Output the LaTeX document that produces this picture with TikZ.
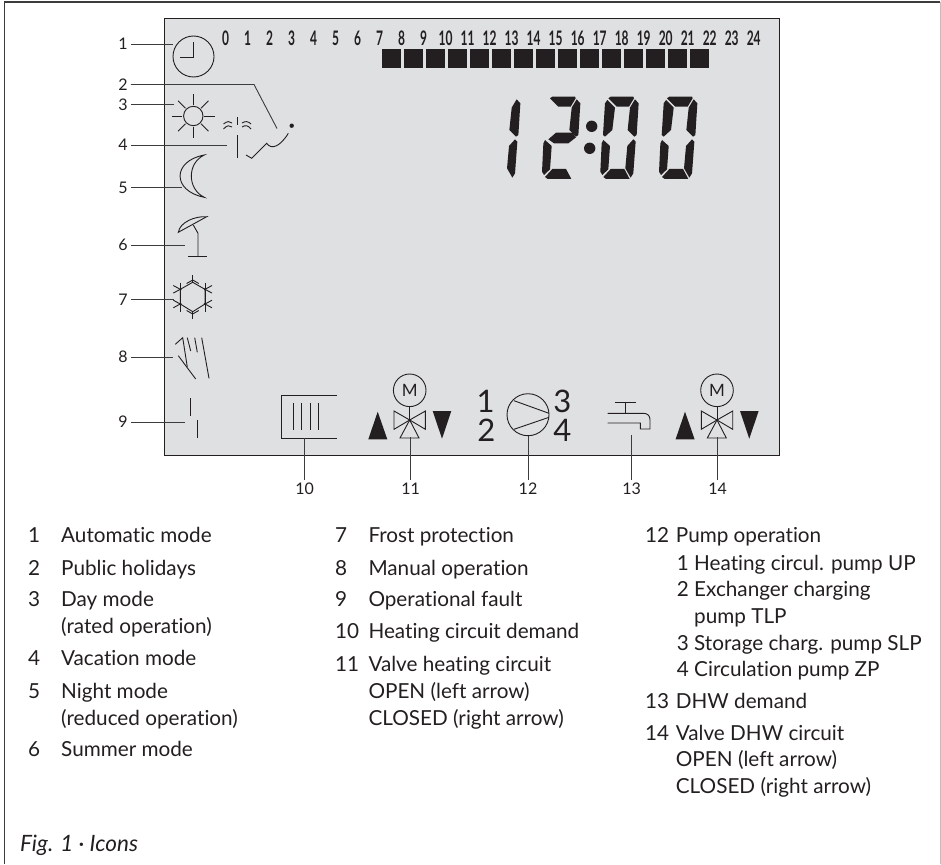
\documentclass[tikz,border=0pt]{standalone}
\usepackage{fontspec}
\setmainfont[Ligatures=NoCommon]{Lato}
\newfontfamily\hourfont[FakeStretch=0.6]{Lato}
\usepackage{tikz}
\usetikzlibrary{calc}

\definecolor{lcdgrey}{HTML}{DFE0E2}
\definecolor{lcdink}{HTML}{231F20}
\definecolor{linegrey}{HTML}{3C3C3C}

\tikzset{
  icon/.style={draw=lcdink, line width=0.9pt},
  leader/.style={draw=linegrey, line width=0.9pt},
  solidink/.style={fill=lcdink, draw=none},
  callout/.style={font=\fontsize{16}{16}\selectfont, text=lcdink, inner sep=3pt},
  legend/.style={font=\fontsize{20.7}{21}\selectfont, text=lcdink, anchor=base west, inner sep=0pt},
  hournum/.style={font=\hourfont\bfseries\fontsize{20}{20}\selectfont, text=lcdink, inner sep=0pt},
  bignum/.style={font=\fontsize{31}{31}\selectfont, text=lcdink, inner sep=0pt},
}

% the seven segments of one digit, in 1/3 pixel units
\newcommand{\segTop}{\fill[solidink] (385,115) -- (392,110) -- (460,110) -- (462,115) -- (447,140) -- (410,140) -- cycle;}
\newcommand{\segUR}{\fill[solidink] (465,118) -- (476,130) -- (470,225) -- (463,230) -- (443,210) -- (450,143) -- cycle;}
\newcommand{\segUL}{\fill[solidink] (382,120) -- (405,143) -- (397,210) -- (375,230) -- (369,225) -- (375,130) -- cycle;}
\newcommand{\segMid}{\fill[solidink] (380,238) -- (403,218) -- (452,218) -- (463,232) -- (440,250) -- (397,250) -- cycle;}
\newcommand{\segLL}{\fill[solidink] (370,240) -- (390,258) -- (385,328) -- (367,345) -- (361,335) -- (365,250) -- cycle;}
\newcommand{\segLR}{\fill[solidink] (460,238) -- (467,245) -- (460,340) -- (452,353) -- (436,325) -- (442,258) -- cycle;}
\newcommand{\segBot}{\fill[solidink] (370,351) -- (392,327) -- (433,327) -- (449,357) -- (378,357) -- cycle;}

% motor valve with its two arrows, centred on the valve crossing
\newcommand{\motorvalve}[1]{
  \begin{scope}[shift={(#1,420)}]
    \draw[icon] (0,-29.7) circle (16.3);
    \node[font=\fontsize{17}{17}\selectfont, text=lcdink, inner sep=0pt] at (0,-29.7) {M};
    \draw[icon] (0,-13.3) -- (0,0);
    \draw[icon] (0,0) -- (-15.7,-9) -- (-15.7,9.3) -- cycle;
    \draw[icon] (0,0) -- (15.7,-9) -- (15.7,9.3) -- cycle;
    \draw[icon] (0,0) -- (-9.7,18) -- (9.3,18) -- cycle;
    \fill[solidink] (-41.4,19.3) -- (-22.4,19.3) -- (-32,-8.3) -- cycle;
    \fill[solidink] (23,-9) -- (41.6,-9) -- (32.3,18.7) -- cycle;
  \end{scope}
}

\begin{document}
\begin{tikzpicture}[x=1pt, y=-1pt]
    \useasboundingbox (0,0) rectangle (941,864);

    % 1. Page frame and display panel
    \draw[linegrey, line width=1.2pt] (4.5,864) -- (4.5,2) -- (940,2);
    \draw[gray!50, line width=1pt] (940,2) -- (940,864);
    \filldraw[fill=lcdgrey, draw=lcdink, line width=0.9pt] (164.5,18.7) rectangle (779,455);

    % 2. Hour scale and the time bar
    \foreach \h in {0,...,24}
        \node[hournum] (hour\h) at (225.7+22*\h,38) {\h};
    \foreach \b in {0,...,14}
        \fill[solidink] (382+22*\b,49) rectangle +(19,19);

    % 3. Big digits 12:00
    \begin{scope}[shift={(480,60)}, x=0.3333pt, y=-0.3333pt]
        \begin{scope}[xshift=-118.3pt]
            \segUR \segLR
        \end{scope}
        \begin{scope}[xshift=-58.3pt]
            \segTop \segUR \segMid \segLL \segBot
        \end{scope}
        \begin{scope}
            \segTop \segUR \segUL \segLL \segLR \segBot
        \end{scope}
        \begin{scope}[xshift=58.7pt]
            \segTop \segUR \segUL \segLL \segLR \segBot
        \end{scope}
    \end{scope}
    \fill[solidink] (591.7,126.3) circle (5.7);
    \fill[solidink] (589.7,148.3) circle (5.7);

    % 4. Icons down the left side
    \draw[icon] (193.5,56.5) circle (20.5);             % clock
    \draw[icon] (193.5,42) -- (193.5,57) -- (180,57);

    \draw[icon] (193.3,116) circle (9.7);               % sun
    \foreach \a in {0,90,180,270}
        \draw[icon] (193.3,116) ++(\a:11) -- ++(\a:10.5);
    \foreach \a in {45,135,225,315}
        \draw[icon] (193.3,116) ++(\a:11) -- ++(\a:10.5);

    \draw[icon] (237,117) -- (237,125);                 % palm and hill
    \draw[icon] (237,135) -- (237,158);
    \draw[icon] (223.5,124) .. controls (227,121) and (230,121) .. (232,123);
    \draw[icon] (223.5,129) .. controls (227,125) and (230,125) .. (232,127);
    \draw[icon] (242,123) .. controls (245,121) and (248,121) .. (251,124);
    \draw[icon] (242,127) .. controls (245,125) and (248,125) .. (251,129);
    \draw[icon] (246,155) -- (251.7,158.3) -- (266.7,143.3)
        .. controls (271,150) and (280,147) .. (288.3,133.3);
    \fill[solidink] (291.7,125.7) circle (2.2);

    \draw[icon] (204.3,155) .. controls (172,161) and (172,191) .. (204.3,197.3)
        .. controls (187,189) and (187,163) .. (204.3,155) -- cycle;  % moon

    \draw[icon] (178.3,232.3) .. controls (180,222) and (195,216) .. (206.7,216.7)
        -- cycle;                                       % umbrella
    \draw[icon] (193.3,225) -- (198,233.3) -- (198,256);
    \draw[icon] (188.3,256) -- (207,256);

    \coordinate (frost) at (192.7,297);                 % snow crystal
    \draw[icon] (192.7,282.3) -- (205,289.3) -- (205,304) -- (192.7,311.7)
        -- (180.3,304) -- (180.3,289.3) -- cycle;
    \draw[icon] (180.3,282.7) -- (180.3,311.7);
    \draw[icon] (205,282.7) -- (205,311.7);
    \foreach \vx/\vy/\s in {180.3/289.3/-1, 180.3/304/-1, 205/289.3/1, 205/304/1} {
        \draw[icon] (\vx-\s,\vy+0.6) -- (\vx+\s*7,\vy-3.8);
        \draw[icon] (\vx-\s,\vy-0.6) -- (\vx+\s*7,\vy+3.8);
    }
    \foreach \a in {90,270}{
        \draw[icon] (frost) ++(\a:14.7) -- ++(\a:7);
        \draw[icon] (frost) ++(\a:17) -- ++(\a+120:7);
        \draw[icon] (frost) ++(\a:17) -- ++(\a-120:7);
    }

    \draw[icon] (175.3,344.3) -- (182.7,337.7) -- (187.3,367);  % hand
    \draw[icon] (178.3,355.7) -- (195.7,379);
    \draw[icon] (187.3,337.7) -- (190.7,351);
    \draw[icon] (194.7,337.7) -- (197.3,352.3);
    \draw[icon] (201.7,337.7) -- (209,378.3);

    \draw[icon] (190,398.3) -- (190,416);               % fault
    \draw[icon] (197,420) -- (197,438.3);

    % 5. Icons along the bottom
    \draw[icon] (336.7,395) -- (281,395) -- (281,438) -- (336.7,438);  % radiator
    \foreach \f in {293.3,301.7,310,318.3}
        \draw[icon] (\f,402.7) -- (\f,430);

    \motorvalve{409.7}
    \motorvalve{717}

    \draw[icon] (528,414.7) circle (21);                % pump
    \draw[icon] (514,400.7) -- (549,413.3);
    \draw[icon] (514,429.3) -- (549,417.3);
    \node[bignum] (pump1) at (485.7,401.7) {1};
    \node[bignum] (pump2) at (486.3,430.7) {2};
    \node[bignum] (pump3) at (562.3,401.7) {3};
    \node[bignum] (pump4) at (562.3,430.7) {4};

    \draw[icon] (615,402) -- (635.7,402);               % tap
    \draw[icon] (625,402) -- (625,413.3);
    \draw[icon] (607.7,413.3) -- (643.3,413.3)
        .. controls (648,413.3) and (650,416) .. (650,420)
        -- (650,429) -- (640.3,429) -- (640.3,423) -- (607.7,423);

    % 6. Callout numbers and their leaders
    \foreach \n/\y/\xe in {1/44/173, 3/104.5/174, 4/145/227, 5/187.5/182,
                           6/245/185, 7/299.5/173.5, 8/357/173, 9/422/185} {
        \node[callout] (call\n) at (123,\y) {\n};
        \coordinate (end\n) at (\xe,\y);
        \draw[leader] (call\n) -- (end\n);
    }
    \node[callout] (call2) at (123,84.5) {2};
    \coordinate (bend2) at (254,84.5);
    \coordinate (end2) at (277,128.5);
    \draw[leader] (call2) -- (bend2) -- (end2);

    \foreach \n/\x/\ye in {10/304.7/438, 11/410.7/436.7, 12/528/435.7,
                           13/631.7/435.3, 14/717.7/436.7} {
        \node[callout] (call\n) at (\x,489) {\n};
        \coordinate (end\n) at (\x,\ye);
        \draw[leader] (call\n) -- (end\n);
    }

    % 7. Legend, left column
    \foreach \y/\n/\t in {542.7/1/Automatic mode, 575/2/Public holidays,
                          606.7/3/Day mode, 665.7/4/Vacation mode,
                          698.3/5/Night mode, 756.7/6/Summer mode} {
        \node[legend] (numa\n) at (28,\y) {\n};
        \node[legend] (texta\n) at (61,\y) {\t};
    }
    \node[legend] (rated) at (61,633.3) {(rated operation)};
    \node[legend] (reduced) at (61,725) {(reduced operation)};

    % 8. Legend, middle column
    \foreach \y/\n/\t in {542.7/7/Frost protection, 575/8/Manual operation,
                          606.7/9/Operational fault, 638.7/10/Heating circuit demand,
                          671/11/Valve heating circuit} {
        \node[legend] (numb\n) at (335,\y) {\n};
        \node[legend] (textb\n) at (368.3,\y) {\t};
    }
    \node[legend] (openb) at (368.3,698.3) {OPEN (left arrow)};
    \node[legend] (closedb) at (368.3,725) {CLOSED (right arrow)};

    % 9. Legend, right column
    \foreach \y/\n/\t in {542.7/12/Pump operation, 708.3/13/DHW demand,
                          740.7/14/Valve DHW circuit} {
        \node[legend] (numc\n) at (645,\y) {\n};
        \node[legend] (textc\n) at (675.7,\y) {\t};
    }
    \foreach \y/\n/\t in {570/1/Heating circul. pump UP, 596.7/2/Exchanger charging,
                          650/3/Storage charg. pump SLP, 676.7/4/Circulation pump ZP} {
        \node[legend] (numd\n) at (676.7,\y) {\n};
        \node[legend] (textd\n) at (694,\y) {\t};
    }
    \node[legend] (tlp) at (694,623.3) {pump TLP};
    \node[legend] (openc) at (675.7,766.7) {OPEN (left arrow)};
    \node[legend] (closedc) at (675.7,793.3) {CLOSED (right arrow)};

    % 10. Caption
    \node[legend, font=\itshape\fontsize{22.5}{23}\selectfont] (caption) at (20,851) {Fig. 1 · Icons};

\end{tikzpicture}
\end{document}
